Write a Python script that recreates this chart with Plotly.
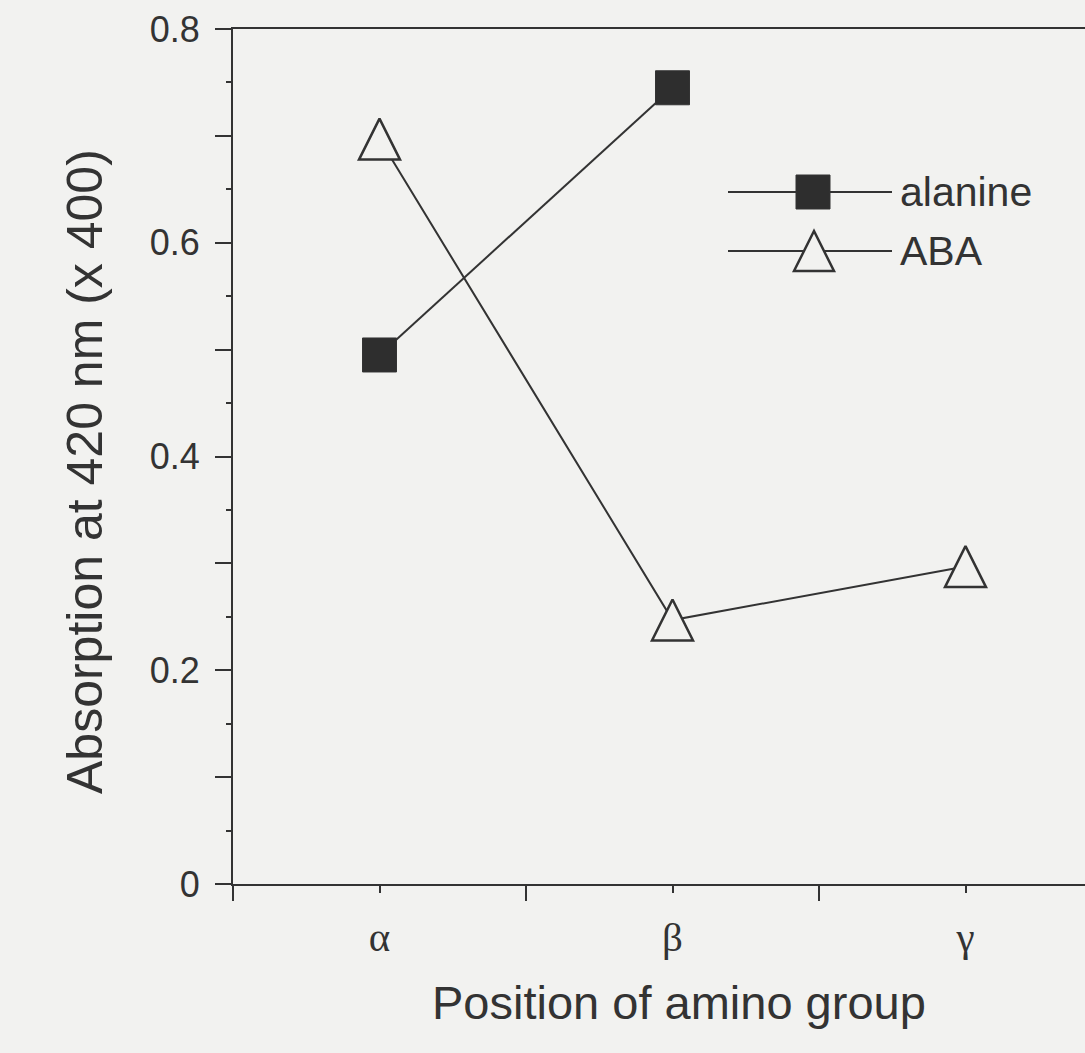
import plotly.graph_objects as go

# Amino-group position on the x axis (1 = alpha, 2 = beta, 3 = gamma)
positions = [1, 2, 3]
position_labels = ["α", "β", "γ"]

# Absorption at 420 nm (x 400)
alanine_pos = [1, 2]
alanine_abs = [0.495, 0.745]
aba_pos = [1, 2, 3]
aba_abs = [0.697, 0.247, 0.297]

series_names = ["alanine", "ABA"]
y_tick_vals = [0.0, 0.1, 0.2, 0.3, 0.4, 0.5, 0.6, 0.7, 0.8]
y_tick_text = ["0", "", "0.2", "", "0.4", "", "0.6", "", "0.8"]

W, H = 1085, 1053
ML, MR, MT, MB = 233, 0, 29, 169
INK = "#333333"
BG = "#f2f2f0"
SANS = "Liberation Sans, Arial, sans-serif"
SERIF = "Liberation Serif, Times New Roman, serif"
TRI = 41  # open triangle: as tall as it is wide


def px_x(px):
    return (px - ML) / (W - ML - MR)


def px_y(py):
    return (H - MB - py) / (H - MT - MB)


fig = go.Figure()

fig.add_trace(go.Scatter(
    x=alanine_pos, y=alanine_abs, name=series_names[0], mode="lines+markers",
    line=dict(color=INK, width=2),
    marker=dict(symbol="square", size=34, color="#2e2e2e",
                line=dict(color=INK, width=1)),
    showlegend=False, cliponaxis=False,
))

# arrow-down turned half a turn and pushed back by half its size gives an
# upward triangle centred on the point
fig.add_trace(go.Scatter(
    x=aba_pos, y=aba_abs, name=series_names[1], mode="lines+markers",
    line=dict(color=INK, width=2, backoff=0),
    marker=dict(symbol="arrow-down", size=TRI, angle=180, standoff=TRI / 2,
                color=BG, line=dict(color=INK, width=2.5)),
    showlegend=False, cliponaxis=False,
))

shapes = []
annotations = []

# Hand-drawn key: long line with the symbol in the middle
key_rows = [(192, "square"), (251, "triangle")]
for (ky, kind), name in zip(key_rows, series_names):
    shapes.append(dict(type="line", xref="paper", yref="paper",
                       x0=px_x(728), x1=px_x(892), y0=px_y(ky), y1=px_y(ky),
                       line=dict(color=INK, width=2)))
    if kind == "square":
        shapes.append(dict(type="rect", xref="paper", yref="paper",
                           xsizemode="pixel", ysizemode="pixel",
                           xanchor=px_x(813), yanchor=px_y(ky),
                           x0=-17, x1=17, y0=-17, y1=17,
                           fillcolor="#2e2e2e", line=dict(color=INK, width=1)))
    else:
        shapes.append(dict(type="path", xref="paper", yref="paper",
                           xsizemode="pixel", ysizemode="pixel",
                           xanchor=px_x(814), yanchor=px_y(ky),
                           path="M-20,-20 L20,-20 L0,20 Z",
                           fillcolor=BG, line=dict(color=INK, width=2.5)))
    annotations.append(dict(text=name, xref="paper", yref="paper",
                            x=px_x(898), y=px_y(ky), xanchor="left", yanchor="middle",
                            showarrow=False, font=dict(family=SANS, size=41, color=INK)))

# Axis titles
annotations.append(dict(text="Position of amino group", xref="paper", yref="paper",
                        x=px_x(679), y=px_y(1002), xanchor="center", yanchor="middle",
                        showarrow=False, font=dict(family=SANS, size=47, color=INK)))
annotations.append(dict(text="Absorption at 420 nm (x 400)", xref="paper", yref="paper",
                        x=px_x(85), y=px_y(472), xanchor="center", yanchor="middle",
                        textangle=-90, showarrow=False,
                        font=dict(family=SANS, size=50, color=INK)))

fig.update_layout(
    width=W, height=H,
    margin=dict(l=ML, r=MR, t=MT, b=MB, pad=0),
    paper_bgcolor=BG, plot_bgcolor=BG,
    showlegend=False,
    shapes=shapes, annotations=annotations,
    xaxis=dict(
        range=[0.5, 0.5 + (W - ML - MR) / 293.0],
        tickmode="array", tickvals=positions, ticktext=position_labels,
        ticks="outside", ticklen=7, tickwidth=2, tickcolor=INK,
        tickfont=dict(family=SERIF, size=41, color=INK),
        ticklabelstandoff=9,
        minor=dict(tick0=0.5, dtick=1, ticks="outside", ticklen=15,
                   tickwidth=2, tickcolor=INK),
        showline=True, linecolor=INK, linewidth=2, mirror=True,
        showgrid=False, zeroline=False,
    ),
    yaxis=dict(
        range=[0, 0.8],
        tickmode="array", tickvals=y_tick_vals, ticktext=y_tick_text,
        ticks="outside", ticklen=16, tickwidth=2, tickcolor=INK,
        tickfont=dict(family=SANS, size=36, color=INK),
        ticklabelstandoff=8,
        minor=dict(tick0=0, dtick=0.05, ticks="outside", ticklen=5,
                   tickwidth=2, tickcolor=INK),
        showline=True, linecolor=INK, linewidth=2, mirror=False,
        showgrid=False, zeroline=False,
    ),
)

fig.write_html("out.html")
